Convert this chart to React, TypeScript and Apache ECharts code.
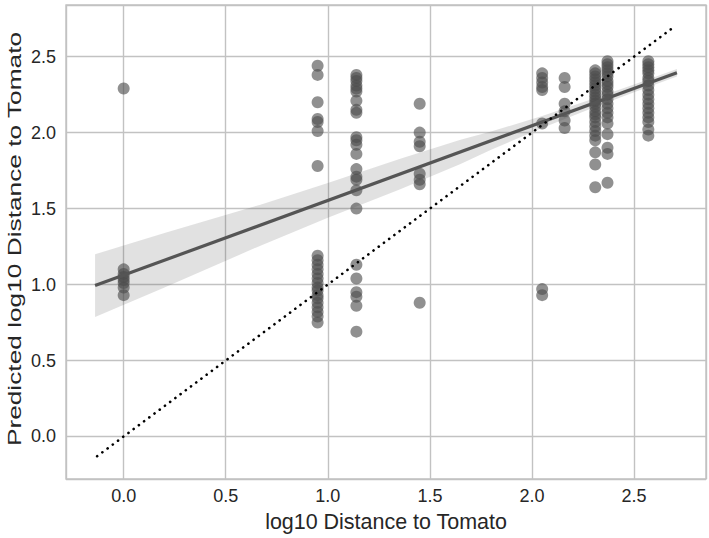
import React, { useEffect, useRef } from "react";
import * as echarts from "echarts";

// Observed x positions (log10 distance) of each column of points
const colX = [0.0, 0.95, 1.14, 1.45, 2.05, 2.16, 2.31, 2.37, 2.57];

// Predicted values per column
const col0 = [2.29, 1.1, 1.07, 1.05, 1.03, 1.01, 0.98, 0.93];
const col095 = [2.44, 2.38, 2.2, 2.09, 2.07, 2.01, 1.78, 1.19, 1.16, 1.13, 1.1, 1.07, 1.04, 1.01, 0.98, 0.96, 0.93, 0.91, 0.88, 0.85, 0.82, 0.79, 0.75];
const col114 = [2.38, 2.36, 2.34, 2.31, 2.29, 2.27, 2.21, 2.15, 2.13, 1.97, 1.95, 1.92, 1.86, 1.76, 1.71, 1.69, 1.62, 1.5, 1.13, 1.04, 0.95, 0.92, 0.86, 0.69];
const col145 = [2.19, 2.0, 1.94, 1.91, 1.73, 1.69, 1.66, 0.88];
const col205 = [2.39, 2.36, 2.33, 2.3, 2.28, 2.06, 0.97, 0.93];
const col216 = [2.36, 2.3, 2.19, 2.14, 2.08, 2.03];
const col231 = [2.41, 2.39, 2.37, 2.35, 2.33, 2.31, 2.29, 2.27, 2.25, 2.23, 2.21, 2.19, 2.17, 2.14, 2.12, 2.1, 2.07, 2.04, 2.01, 1.98, 1.95, 1.87, 1.79, 1.64];
const col237 = [2.47, 2.45, 2.43, 2.41, 2.39, 2.37, 2.34, 2.32, 2.3, 2.27, 2.25, 2.22, 2.19, 2.16, 2.13, 2.1, 2.06, 1.99, 1.9, 1.86, 1.67];
const col257 = [2.47, 2.45, 2.43, 2.41, 2.39, 2.36, 2.34, 2.31, 2.28, 2.25, 2.22, 2.19, 2.16, 2.13, 2.1, 2.07, 2.02, 1.98];
const columns = [col0, col095, col114, col145, col205, col216, col231, col237, col257];

// Regression fit line end points
const fitX = [-0.14, 2.71];
const fitY = [0.993, 2.394];

// Confidence band
const bandX = [-0.14, 0.2, 0.67, 1.0, 1.355, 1.65, 1.8, 2.05, 2.3, 2.5, 2.71];
const bandLo = [0.786, 0.98, 1.256, 1.439, 1.628, 1.793, 1.887, 2.03, 2.163, 2.266, 2.369];
const bandHi = [1.2, 1.34, 1.526, 1.669, 1.828, 1.953, 2.007, 2.11, 2.223, 2.316, 2.419];

// Identity (y = x) reference line
const idX = [-0.13, 2.69];

const xTicks = [0.0, 0.5, 1.0, 1.5, 2.0, 2.5];
const yTicks = [0.0, 0.5, 1.0, 1.5, 2.0, 2.5];

const xTitle = "log10 Distance to Tomato";
const yTitle = "Predicted log10 Distance to Tomato";

const FONT = "'Liberation Sans', Arial, Helvetica, sans-serif";

function tickFmt(ticks: number[]) {
  return (v: number) => {
    const hit = ticks.find((t) => Math.abs(t - v) < 1e-6);
    return hit === undefined ? "" : hit.toFixed(1);
  };
}

export default function App() {
  const ref = useRef<HTMLDivElement>(null);
  useEffect(() => {
    if (!ref.current) return;
    const chart = echarts.init(ref.current, null, { renderer: "svg" });
    const pts: number[][] = [];
    columns.forEach((col, i) => col.forEach((y) => pts.push([colX[i], y])));
    const grid = "#c2c2c2";
    const textColor = "#262626";
    chart.setOption({
      animation: false,
      grid: {
        left: 66,
        right: 3,
        top: 5,
        bottom: 59,
        show: true,
        borderColor: grid,
        borderWidth: 1.4,
        backgroundColor: "#ffffff",
      },
      graphic: [
        {
          type: "text",
          x: 386,
          y: 522,
          scaleX: 1.13,
          scaleY: 1.12,
          style: {
            text: xTitle,
            fontSize: 19,
            fontFamily: FONT,
            fill: textColor,
            align: "center",
            verticalAlign: "middle",
          },
        },
        {
          type: "text",
          x: 15,
          y: 239,
          rotation: Math.PI / 2,
          scaleX: 1.46,
          scaleY: 1.0,
          style: {
            text: yTitle,
            fontSize: 18,
            fontFamily: FONT,
            fill: textColor,
            align: "center",
            verticalAlign: "middle",
          },
        },
      ],
      xAxis: {
        type: "value",
        min: -0.2825,
        max: 2.8525,
        splitNumber: 6,
        axisLine: { show: false },
        axisTick: { show: false },
        axisLabel: { fontSize: 18, color: textColor, fontFamily: FONT, margin: 8, formatter: tickFmt(xTicks) },
        splitLine: { show: true, lineStyle: { color: grid, width: 1.4 } },
      },
      yAxis: {
        type: "value",
        min: -0.28,
        max: 2.84,
        splitNumber: 6,
        axisLine: { show: false },
        axisTick: { show: false },
        axisLabel: { fontSize: 18, color: textColor, fontFamily: FONT, margin: 10, formatter: tickFmt(yTicks) },
        splitLine: { show: true, lineStyle: { color: grid, width: 1.4 } },
      },
      series: [
        {
          type: "scatter",
          data: pts,
          symbolSize: 12,
          itemStyle: { color: "rgba(77,77,77,0.78)" },
          z: 2,
        },
        {
          type: "custom",
          z: 3,
          data: bandX.map((x, i) => [x, bandLo[i], bandHi[i]]),
          encode: { x: 0, y: [1, 2] },
          renderItem: (params: any, api: any) => {
            if (params.dataIndex !== 0) return null;
            const top = bandX.map((x, i) => api.coord([x, bandHi[i]]));
            const bot = bandX.map((x, i) => api.coord([x, bandLo[i]])).reverse();
            return {
              type: "polygon",
              shape: { points: top.concat(bot) },
              style: { fill: "rgba(77,77,77,0.17)" },
            };
          },
        },
        {
          type: "line",
          data: fitX.map((x, i) => [x, fitY[i]]),
          symbol: "none",
          lineStyle: { color: "#555555", width: 3.2 },
          z: 4,
        },
        {
          type: "line",
          data: idX.map((x) => [x, x]),
          symbol: "none",
          lineStyle: { color: "#000000", width: 2.6, type: [0.1, 6.4], cap: "round" },
          z: 5,
        },
      ],
    });
    return () => chart.dispose();
  }, []);
  return (
    <div
      ref={ref}
      style={{ position: "fixed", left: 0, top: 0, width: 709, height: 538, background: "#fff" }}
    />
  );
}
